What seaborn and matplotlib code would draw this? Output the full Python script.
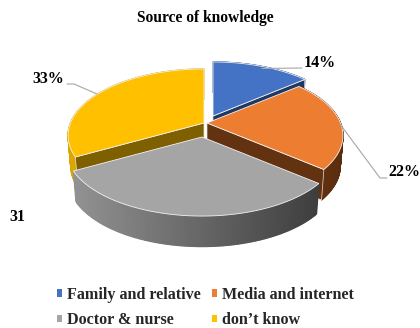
import numpy as np
import matplotlib
matplotlib.use("Agg")
import matplotlib.pyplot as plt
from matplotlib.patches import Polygon
from matplotlib.collections import PolyCollection
from matplotlib.lines import Line2D
import seaborn as sns

# Survey shares, in clockwise order from twelve o'clock
categories = ["Family and relative", "Media and internet", "Doctor & nurse", "don\u2019t know"]
shares = [14, 22, 31, 33]
value_labels = ["14%", "22%", "31", "33%"]
chart_title = "Source of knowledge"

top_colors = ["#4472C4", "#ED7D31", "#A5A5A5", "#FFC000"]
cut_colors = ["#203864", "#633211", "#8a8a8a", "#7F6000"]
rim_left_colors = ["#2F5597", "#6b3713", "#929292", "#dca600"]
rim_right_colors = ["#2F5597", "#5a2c0e", "#3e3e3e", "#dca600"]

# Apex of each exploded slice on the canvas
apex_x = [213, 207, 202, 204]
apex_y = [116, 123, 137, 123]

# Projection of the tilted disc
RADIUS_X, RADIUS_Y = 133.5, 64.2
PERSPECTIVE = 0.188
DEPTH = 30.5

sns.set_theme(style="white")
serif = ["Liberation Serif", "DejaVu Serif"]
plt.rcParams["font.family"] = serif
plt.rcParams["font.weight"] = "bold"


def project(angle_deg, ax0, ay0, lowered=False):
    """Map clock angles on the unit disc to canvas coordinates."""
    a = np.radians(angle_deg)
    x, y = np.sin(a), -np.cos(a)
    s = 1.0 / (1.0 - PERSPECTIVE * y)
    if lowered:
        return ax0 + RADIUS_X * x * s * 0.98, ay0 + RADIUS_Y * y * s + DEPTH
    return ax0 + RADIUS_X * x * s, ay0 + RADIUS_Y * y * s


fig = plt.figure(figsize=(4.2, 3.28), dpi=100, facecolor="white")
ax = fig.add_axes([0, 0, 1, 1])
ax.set_xlim(0, 420)
ax.set_ylim(328, 0)
ax.axis("off")

edges = np.concatenate([[0], np.cumsum(shares)]) / np.sum(shares) * 360.0
paint_order = [0, 3, 1, 2]

for level, i in enumerate(paint_order):
    start, end = edges[i], edges[i + 1]
    x0, y0 = apex_x[i], apex_y[i]
    z = 2 + level
    theta = np.linspace(start, end, 121)
    tx, ty = project(theta, x0, y0)
    bx, by = project(theta, x0, y0, lowered=True)

    # Outer rim, shaded across the slice from left to right
    quads, shades = [], []
    left = np.array(matplotlib.colors.to_rgb(rim_left_colors[i]))
    right = np.array(matplotlib.colors.to_rgb(rim_right_colors[i]))
    span = max(tx.max() - tx.min(), 1)
    for j in range(len(theta) - 1):
        quads.append([(tx[j], ty[j]), (tx[j + 1], ty[j + 1]), (bx[j + 1], by[j + 1]), (bx[j], by[j])])
        shades.append(left + (right - left) * (tx[j] - tx.min()) / span)
    ax.add_collection(PolyCollection(quads, facecolors=shades, edgecolors=shades, linewidths=0.9, zorder=z))

    # Cut faces, only where one turns towards the viewer
    for ang, visible in ((start, np.sin(np.radians(start)) < -1e-6),
                         (end, np.sin(np.radians(end)) > 1e-6)):
        if not visible:
            continue
        ex, ey = project(ang, x0, y0)
        fx, fy = project(ang, x0, y0, lowered=True)
        ax.add_patch(Polygon([(x0, y0), (ex, ey), (fx, fy), (x0, y0 + DEPTH)], closed=True,
                             facecolor=cut_colors[i], edgecolor="#e8e2d8", linewidth=0.5, zorder=z))

    # Top surface
    ax.add_patch(Polygon(np.vstack([[x0, y0], np.column_stack([tx, ty])]), closed=True,
                         facecolor=top_colors[i], edgecolor="#f2f2f2", linewidth=0.6, zorder=z))

# Leader lines between slices and their value labels
leader = dict(color="#a6a6a6", linewidth=0.8, zorder=8)
ax.add_line(Line2D([262, 302], [68.5, 68], **leader))
ax.add_line(Line2D([67, 74, 97], [84, 84, 94], **leader))
ax.add_line(Line2D([340, 380, 387], [124, 178, 178], **leader))

label_spots = [(319.5, 63), (404, 172), (17, 217), (48, 79)]
for text, (lx, ly) in zip(value_labels, label_spots):
    ax.text(lx, ly, text, ha="center", va="center", fontsize=11.5, fontweight="bold", color="black", zorder=9)

ax.text(205, 18, chart_title, ha="center", va="center", fontsize=11.2, fontweight="bold", color="black")

# Two-row legend read across
handles = [plt.Rectangle((0, 0), 1, 1, facecolor=c, edgecolor="none") for c in top_colors]
order = [0, 2, 1, 3]
leg = ax.legend([handles[k] for k in order], [categories[k] for k in order], ncol=2, frameon=False,
                loc="center", bbox_to_anchor=(0.489, 0.0625), bbox_transform=ax.transAxes,
                fontsize=11.6, handlelength=0.33, handleheight=0.33, handletextpad=0.31,
                columnspacing=0.68, labelspacing=0.6, borderpad=0, alignment="left")

fig.savefig("out.png", dpi=100, facecolor="white")
